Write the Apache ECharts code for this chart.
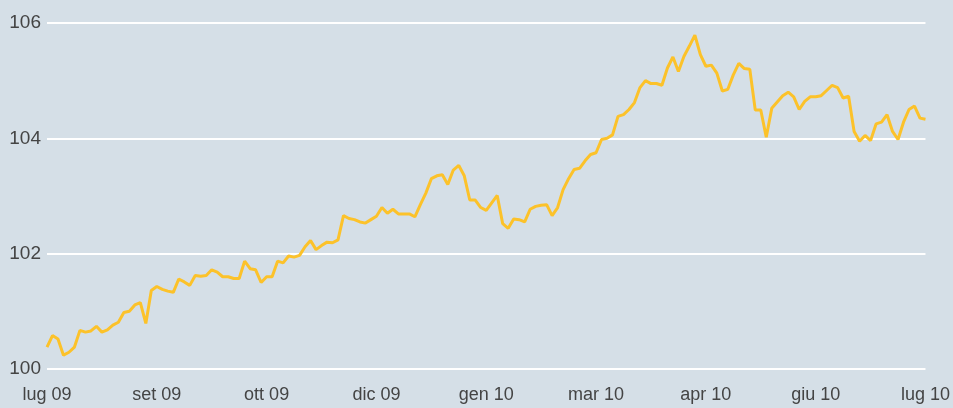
<!DOCTYPE html>
<html style="height: 100%">
  <head>
    <meta charset="UTF-8" />
    <title>Indice lug 09 - lug 10</title>
    <script src="https://cdn.jsdelivr.net/npm/echarts@6/dist/echarts.min.js"></script>
  </head>
  <body style="height: 100%; margin: 0; background: #d5dfe7">
    <div id="main" style="width: 953px; height: 408px"></div>
    <script>
      // etichette dell'asse x: una ogni 20 osservazioni
      var monthLabels = ['lug 09', 'set 09', 'ott 09', 'dic 09', 'gen 10', 'mar 10', 'apr 10', 'giu 10', 'lug 10'];
      var step = 20;

      // valori
      var values = [
        100.38, 100.58, 100.52, 100.24, 100.29, 100.38, 100.67, 100.64, 100.66, 100.74,
        100.64, 100.68, 100.76, 100.81, 100.98, 101.0, 101.11, 101.15, 100.79, 101.36,
        101.43, 101.38, 101.35, 101.33, 101.56, 101.51, 101.45, 101.62, 101.61, 101.62,
        101.72, 101.68, 101.6, 101.6, 101.57, 101.57, 101.87, 101.74, 101.72, 101.5,
        101.6, 101.6, 101.87, 101.84, 101.96, 101.94, 101.97, 102.12, 102.23, 102.07,
        102.14, 102.2, 102.19, 102.24, 102.66, 102.61, 102.59, 102.55, 102.53, 102.59,
        102.65, 102.8, 102.7, 102.77, 102.69, 102.69, 102.69, 102.64, 102.85, 103.05,
        103.3, 103.35, 103.37, 103.2, 103.45, 103.53, 103.35, 102.93, 102.93, 102.8,
        102.75, 102.88, 103.01, 102.52, 102.44, 102.6, 102.59, 102.55, 102.77, 102.82,
        102.84, 102.85, 102.66, 102.8, 103.11, 103.3, 103.46, 103.48, 103.61, 103.72,
        103.75, 103.98, 104.0, 104.06, 104.38, 104.41, 104.5, 104.62, 104.88, 105.0,
        104.95, 104.95, 104.92, 105.22, 105.41, 105.16, 105.42, 105.6, 105.79, 105.45,
        105.25, 105.27, 105.13, 104.82, 104.85, 105.1, 105.3, 105.21, 105.2, 104.49,
        104.49, 104.02, 104.52, 104.63, 104.74, 104.8, 104.72, 104.5, 104.64, 104.72,
        104.72, 104.74, 104.83, 104.92, 104.88, 104.7, 104.73, 104.12, 103.95, 104.05,
        103.96, 104.25, 104.28, 104.41, 104.12, 103.98, 104.28, 104.5, 104.56, 104.35,
        104.33
      ];

      var categories = values.map(function (v, i) {
        return i % step === 0 ? monthLabels[i / step] : '';
      });

      var font = "'Liberation Sans', Arial, sans-serif";
      var chart = echarts.init(document.getElementById('main'));

      var option = {
        backgroundColor: '#d5dfe7',
        animation: false,
        textStyle: { fontFamily: font },
        grid: { left: 47, right: 21, top: 23, bottom: 39 },
        xAxis: {
          type: 'category',
          data: categories,
          boundaryGap: false,
          axisLine: { show: false },
          axisTick: { show: false },
          axisLabel: {
            interval: function (i) { return i % step === 0; },
            color: '#444',
            fontSize: 18,
            margin: 17,
            fontFamily: font
          },
          splitLine: { show: false }
        },
        yAxis: {
          type: 'value',
          min: 100,
          max: 106,
          interval: 2,
          axisLine: { show: false },
          axisTick: { show: false },
          axisLabel: {
            color: '#444',
            fontSize: 19,
            margin: 6,
            fontFamily: font
          },
          splitLine: { lineStyle: { color: '#ffffff', width: 2 } }
        },
        series: [
          {
            type: 'line',
            data: values,
            showSymbol: false,
            lineStyle: { color: '#fcc22a', width: 3 }
          }
        ]
      };

      chart.setOption(option);
    </script>
  </body>
</html>
